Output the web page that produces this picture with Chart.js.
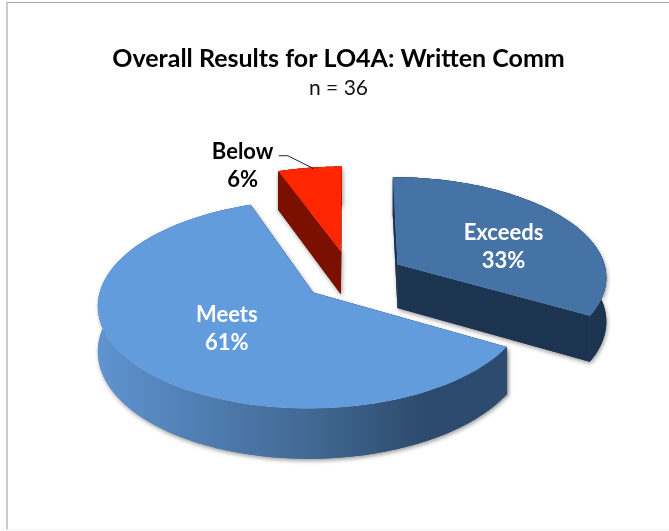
<!DOCTYPE html>
<html>
<head>
<meta charset="utf-8">
<script src="https://cdn.jsdelivr.net/npm/chart.js@4"></script>
<style>
  html, body { margin: 0; background: #fff; overflow: hidden; }
  #frame { position: absolute; left: 6px; top: 2px; width: 680px; height: 526px;
           border-top: 1px solid #aaa; border-left: 2px solid #ccc; border-bottom: 1px solid #f2f2f2; }
  canvas { position: absolute; left: 0; top: 0; }
</style>
</head>
<body>
<div id="frame"></div>
<canvas id="chart-lo4a" width="669" height="531"></canvas>
<script>
const categories = ['Exceeds', 'Meets', 'Below'];
const counts = [12, 22, 2];
const total = 36;
const titleText = 'Overall Results for LO4A: Written Comm';
const subtitleText = 'n = ' + total;

const topColors = ['#4673a5', '#629cdc', '#ff2600'];
const explode = [55, 48, 57];

// fake 3d camera, the arcs angles come from chart.js
const cam = { shiftX: 12, centerY: 277.5, tilt: 0.475, persp: 0.11, depth: 44, radius: 210 };

// where the labels sit, measured from the tip of the slice
const labelAngle = [71, 228, 332];
const labelDist = [117, 108, 241];
const labelColor = ['#fff', '#fff', '#000'];

function project(el, angle, r) {
    const mid = (el.startAngle + el.endAngle) / 2;
    const d = el.options.offset;
    const X = d * Math.cos(mid) + r * Math.cos(angle);
    const Y = d * Math.sin(mid) + r * Math.sin(angle);
    const w = 1 / (1 - cam.persp * Y / cam.radius);
    return { x: el.x + cam.shiftX + X * w, y: cam.centerY + Y * cam.tilt * w, w: w };
}

function arcPoints(el) {
    const pts = [];
    const steps = 80;
    for (let i = 0; i <= steps; i++) {
        const a = el.startAngle + (el.endAngle - el.startAngle) * i / steps;
        pts.push(project(el, a, el.outerRadius));
    }
    return pts;
}

function fillPoly(ctx, pts, fill) {
    ctx.beginPath();
    pts.forEach((p, i) => i ? ctx.lineTo(p.x, p.y) : ctx.moveTo(p.x, p.y));
    ctx.closePath();
    ctx.fillStyle = fill;
    ctx.fill();
}

function down(p) {
    return { x: p.x, y: p.y + cam.depth * p.w };
}

function wallFill(ctx, i, pts) {
    if (i === 2) return '#7b1000';
    if (i === 0) return '#1d3451';
    const xs = pts.map(p => p.x);
    const g = ctx.createLinearGradient(Math.min(...xs), 0, Math.max(...xs), 0);
    g.addColorStop(0, '#5e94d0');
    g.addColorStop(0.2, '#5382b8');
    g.addColorStop(0.55, '#3f668f');
    g.addColorStop(0.8, '#2c4a6c');
    g.addColorStop(1, '#2d4b6e');
    return g;
}

function drawWalls(ctx, el, i, rim, tip) {
    const first = rim[0];
    const last = rim[rim.length - 1];
    const solid = i === 1 ? '#2d4b6e' : wallFill(ctx, i, rim);
    fillPoly(ctx, [tip, first, down(first), down(tip)], solid);
    fillPoly(ctx, [tip, last, down(last), down(tip)], solid);
    fillPoly(ctx, rim.concat(rim.map(down).reverse()), wallFill(ctx, i, rim));
}

const pie3d = {
    id: 'pie3d',
    beforeDatasetDraw(chart, args) {
        const ctx = chart.ctx;
        const arcs = chart.getDatasetMeta(args.index).data;
        arcs.forEach((el, i) => {
            const rim = arcPoints(el);
            const tip = project(el, el.startAngle, 0);
            // first pass only for the soft shadow, second one covers the seams
            ctx.save();
            ctx.shadowColor = 'rgba(0,0,0,0.4)';
            ctx.shadowBlur = 4;
            ctx.shadowOffsetX = 1;
            ctx.shadowOffsetY = 2;
            drawWalls(ctx, el, i, rim, tip);
            ctx.restore();
            drawWalls(ctx, el, i, rim, tip);
            fillPoly(ctx, [tip].concat(rim), el.options.backgroundColor);
        });
        return false;
    },
    afterDatasetsDraw(chart) {
        const ctx = chart.ctx;
        const arcs = chart.getDatasetMeta(0).data;
        ctx.save();
        ctx.font = 'bold 22px Lato';
        ctx.textAlign = 'center';
        ctx.textBaseline = 'middle';
        arcs.forEach((el, i) => {
            const mid = (el.startAngle + el.endAngle) / 2;
            const d = el.options.offset;
            const a = labelAngle[i] * Math.PI / 180 - Math.PI / 2;
            const X = d * Math.cos(mid) + labelDist[i] * Math.cos(a);
            const Y = d * Math.sin(mid) + labelDist[i] * Math.sin(a);
            const w = 1 / (1 - cam.persp * Y / cam.radius);
            const x = el.x + cam.shiftX + X * w;
            const y = cam.centerY + Y * cam.tilt * w;
            ctx.fillStyle = labelColor[i];
            ctx.fillText(chart.data.labels[i], x, y - 14);
            ctx.fillText(Math.round(counts[i] / total * 100) + '%', x, y + 14);
        });
        // leader line for the small slice
        const below = arcs[2];
        const end = project(below, (below.startAngle + below.endAngle) / 2, below.outerRadius);
        ctx.beginPath();
        ctx.moveTo(end.x - 31, end.y - 12);
        ctx.lineTo(end.x - 22, end.y - 12);
        ctx.lineTo(end.x + 4, end.y + 1);
        ctx.strokeStyle = '#222';
        ctx.lineWidth = 1;
        ctx.stroke();
        ctx.restore();
    }
};

const ctx = document.getElementById('chart-lo4a').getContext('2d');
const chart = new Chart(ctx, {
    type: 'pie',
    data: {
        labels: categories,
        datasets: [{
            data: counts,
            backgroundColor: topColors,
            borderWidth: 0,
            offset: explode
        }]
    },
    options: {
        responsive: false,
        animation: false,
        radius: cam.radius,
        layout: { padding: { left: 8 } },
        plugins: {
            legend: { display: false },
            tooltip: { enabled: false },
            title: {
                display: true,
                text: titleText,
                color: '#000',
                font: { family: 'Lato', size: 25, weight: 'bold' },
                padding: { top: 44, bottom: 2 }
            },
            subtitle: {
                display: true,
                text: subtitleText,
                color: '#111',
                font: { family: 'Lato', size: 21, weight: 'normal' },
                padding: { top: 0, bottom: 10 }
            }
        }
    },
    plugins: [pie3d]
});
</script>
</body>
</html>
